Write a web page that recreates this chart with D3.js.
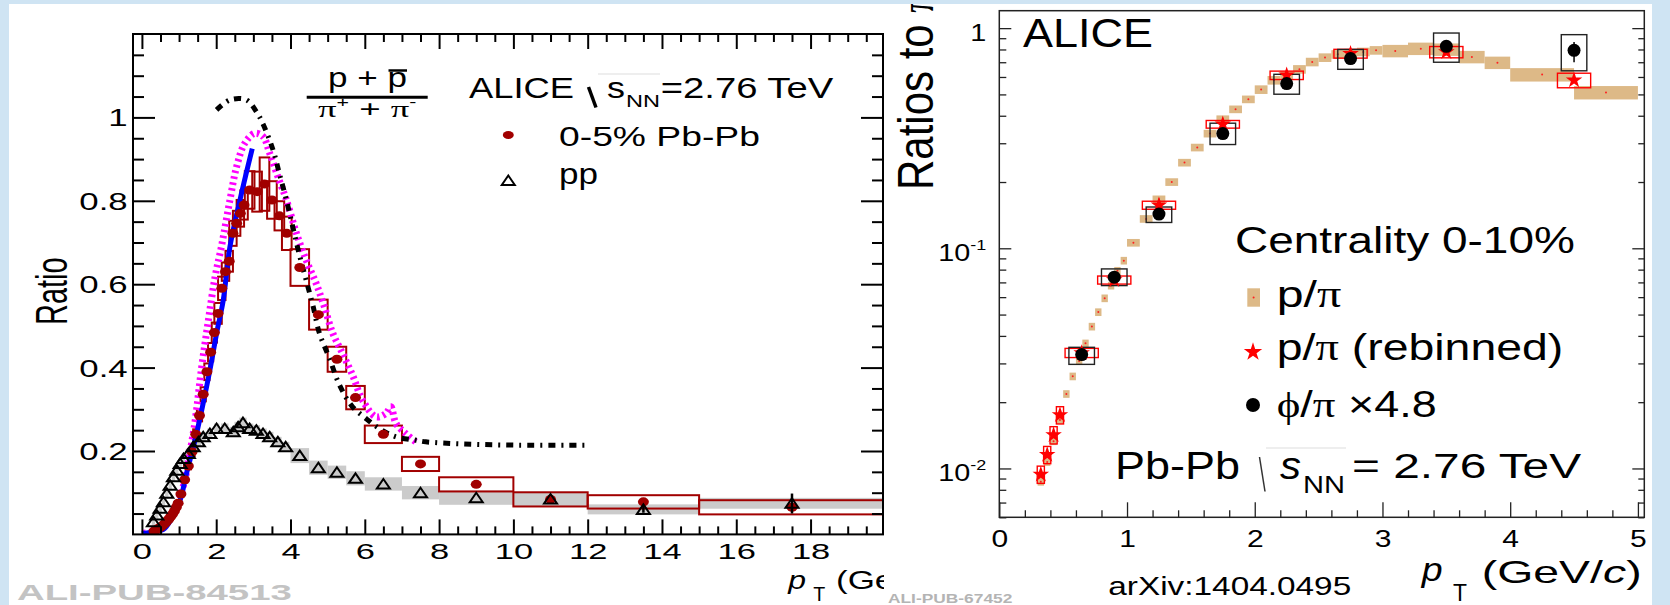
<!DOCTYPE html>
<html><head><meta charset="utf-8">
<script src="https://cdn.jsdelivr.net/npm/d3@7"></script>
<style>html,body{margin:0;padding:0;background:#fff;}svg{display:block;}text{font-family:"Liberation Sans",Arial,Helvetica,sans-serif;}</style>
</head><body>
<svg id="c" width="1670" height="605"></svg>
<script>
// ===== Left panel: (p+pbar)/(pi+ + pi-) =====
const pbPt = [0.325,0.375,0.425,0.475,0.525,0.575,0.625,0.675,0.725,0.775,0.825,0.875,0.925,0.975,
  1.05,1.15,1.25,1.35,1.45,1.55,1.65,1.75,1.85,1.95,
  2.05,2.15,2.25,2.35,2.45,2.55,2.65,2.75,
  2.9,3.1,3.3,3.5,3.7,3.9, 4.25,4.75,5.25,5.75, 6.5,7.5, 9,11,13.5,17.5];
const pbVal = [0.008,0.0105,0.013,0.016,0.019,0.023,0.027,0.032,0.037,0.043,0.049,0.056,0.065,0.075,
  0.097,0.131,0.164,0.198,0.24,0.285,0.336,0.39,0.437,0.484,
  0.53,0.59,0.63,0.655,0.722,0.746,0.77,0.79,
  0.826,0.822,0.84,0.802,0.764,0.722, 0.64,0.527,0.42,0.328, 0.24,0.169, 0.12,0.084,0.078,0.065];
const pbSys = [0.0005,0.0006,0.0007,0.0008,0.001,0.0012,0.0014,0.0016,0.0019,0.0022,0.0025,0.0028,0.0033,0.0038,
  0.005,0.007,0.008,0.01,0.012,0.014,0.017,0.02,0.022,0.024,
  0.025,0.028,0.022,0.025,0.03,0.03,0.032,0.035,
  0.045,0.048,0.064,0.045,0.035,0.04, 0.044,0.036,0.03,0.028, 0.021,0.017, 0.017,0.017,0.016,0.017];
const pbHalfW = [0.04,0.04,0.04,0.04,0.04,0.04,0.04,0.04,0.04,0.04,0.04,0.04,0.04,0.04,
  0.07,0.07,0.07,0.07,0.07,0.07,0.07,0.07,0.07,0.07,
  0.1,0.1,0.1,0.1,0.1,0.1,0.1,0.1,
  0.13,0.13,0.13,0.13,0.13,0.13, 0.25,0.25,0.25,0.25, 0.5,0.5, 1,1,1.5,2.5];

const ppPt = [0.31,0.40,0.49,0.58,0.67,0.76,0.85,0.94,1.03,1.12,
  1.25,1.38,1.52,1.65,1.83,2.01,
  2.23,2.46,2.59,2.72,2.90,3.08,3.26,3.44,3.66,3.87,
  4.25,4.75,5.25,5.75,6.5,7.5,9,11,13.5,17.5];
const ppVal = [0.0305,0.0465,0.0626,0.0784,0.0985,0.118,0.138,0.154,0.17,0.182,
  0.194,0.21,0.222,0.234,0.242,0.254,
  0.254,0.246,0.258,0.268,0.254,0.25,0.242,0.234,0.222,0.21,
  0.189,0.16,0.149,0.1345,0.121,0.1,0.088,0.085,0.06,0.0746];
const ppSys = [0.012,0.012,0.012,0.012,0.012,0.012,0.012,0.012,0.012,0.012,
  0.012,0.012,0.012,0.012,0.012,0.012,
  0.012,0.012,0.012,0.012,0.012,0.012,0.012,0.012,0.012,0.012,
  0.018,0.017,0.016,0.017,0.016,0.016,0.017,0.017,0.012,0.013];
const ppHalfW = [0.045,0.045,0.045,0.045,0.045,0.045,0.045,0.045,0.045,0.045,
  0.07,0.07,0.07,0.07,0.07,0.07,
  0.1,0.1,0.1,0.1,0.1,0.1,0.1,0.1,0.1,0.1,
  0.25,0.25,0.25,0.25,0.5,0.5,1,1,1.5,2.5];
const ppStatPt = [13.5,17.5];
const ppStatLo = [0.052,0.05];
const ppStatHi = [0.068,0.098];

// model curves
const blueX = [0,0.3,0.58,0.8,1.03,1.2,1.43,1.61,1.83,2.01,2.19,2.37,2.64,2.83,2.97];
const blueY = [0.002,0.006,0.012,0.038,0.0825,0.146,0.226,0.298,0.394,0.482,0.562,0.69,0.802,0.874,0.925];
const magX = [0.04,0.5,1.0,1.38,1.61,1.79,1.97,2.14,2.37,2.55,2.77,3.04,3.26,3.44,3.66,3.89,4.16,4.42,4.69,4.91,5.14,5.40,5.67,5.94,6.30,6.57,6.70,6.84,7.10,7.37];
const magY = [0.003,0.014,0.085,0.242,0.402,0.514,0.618,0.69,0.802,0.882,0.938,0.962,0.954,0.914,0.858,0.802,0.722,0.658,0.602,0.546,0.482,0.434,0.382,0.322,0.282,0.29,0.306,0.266,0.242,0.222];
const bkX = [2.01,2.37,2.81,3.08,3.26,3.53,3.71,3.89,4.07,4.24,4.42,4.60,4.78,5.05,5.32,5.67,6.03,6.39,6.84,7.37,7.64,8.62,10.14,11.93];
const bkY = [1.018,1.042,1.042,1.014,0.984,0.922,0.862,0.802,0.734,0.67,0.61,0.55,0.482,0.422,0.358,0.306,0.278,0.254,0.234,0.226,0.222,0.217,0.214,0.214];

const leftXMajor = [0,2,4,6,8,10,12,14,16,18,20];
const leftYMajor = [0.2,0.4,0.6,0.8,1];

// ===== Right panel: ratios to pi (log) =====
const ppiPt = [0.325,0.375,0.425,0.475,0.525,0.575,0.625,0.675,0.725,0.775,0.825,0.875,0.925,0.975,
  1.05,1.15,1.25,1.35,1.45,1.55,1.65,1.75,1.85,1.95,
  2.05,2.15,2.25,2.35,2.45,2.55,2.65,2.75,2.85,2.95,
  3.1,3.3,3.5,3.7,3.9, 4.25,4.75];
const ppiVal = [0.0087,0.0107,0.0133,0.0166,0.0218,0.0262,0.0308,0.037,0.0441,0.0513,0.0593,0.0677,0.0791,0.0879,
  0.106,0.136,0.167,0.2,0.245,0.287,0.332,0.386,0.428,0.475,
  0.526,0.58,0.61,0.65,0.702,0.735,0.76,0.77,0.78,0.793,
  0.788,0.807,0.80,0.74,0.697, 0.615,0.51];
const ppiBinW = [0.05,0.05,0.05,0.05,0.05,0.05,0.05,0.05,0.05,0.05,0.05,0.05,0.05,0.05,
  0.1,0.1,0.1,0.1,0.1,0.1,0.1,0.1,0.1,0.1,
  0.1,0.1,0.1,0.1,0.1,0.1,0.1,0.1,0.1,0.1,
  0.2,0.2,0.2,0.2,0.2, 0.5,0.5];
const ppiRel = [0.04,0.04,0.04,0.04,0.04,0.04,0.04,0.04,0.04,0.04,0.04,0.04,0.04,0.04,
  0.04,0.04,0.04,0.04,0.04,0.04,0.04,0.04,0.04,0.04,
  0.045,0.045,0.045,0.045,0.045,0.045,0.045,0.045,0.045,0.045,
  0.065,0.065,0.065,0.065,0.065, 0.07,0.07];

const starPt = [0.325,0.375,0.425,0.475,0.645,0.9,1.25,1.75,2.25,2.75,3.5,4.5];
const starVal = [0.0094,0.01155,0.0142,0.0175,0.0335,0.0718,0.157,0.366,0.611,0.766,0.779,0.58];
const starHalfW = [0.028,0.028,0.028,0.028,0.13,0.13,0.13,0.13,0.13,0.13,0.13,0.13];
const starRel = [0.09,0.09,0.09,0.09,0.048,0.042,0.042,0.04,0.044,0.046,0.059,0.076];

const phiPt = [0.645,0.9,1.25,1.75,2.25,2.75,3.5,4.5];
const phiVal = [0.0329,0.0739,0.143,0.332,0.56,0.727,0.827,0.793];
const phiLo = [0.0297,0.0677,0.131,0.296,0.501,0.65,0.70,0.64];
const phiHi = [0.0355,0.0806,0.154,0.37,0.617,0.80,0.95,0.934];
const phiHalfW = [0.1,0.1,0.1,0.1,0.1,0.1,0.1,0.1];
const phiStatLo = [0.0325,0.0725,0.14,0.325,0.545,0.71,0.80,0.70];
const phiStatHi = [0.0333,0.0753,0.146,0.339,0.575,0.744,0.855,0.865];

const rightXMajor = [0,1,2,3,4,5];
const rightYMajor = [0.01,0.1,1];
const rightYLabels = ['10|-2','10|-1','1'];

// ===== drawing =====
const LB = '#cfe4f3', PBR = '#a10000', TAN = '#ddb987';
const svg = d3.select('#c');
const defs = svg.append('defs');
svg.append('rect').attr('width',1670).attr('height',605).attr('fill',LB);
svg.append('rect').attr('x',9).attr('y',4).attr('width',875).attr('height',601).attr('fill','#fff');

function T(parent, o) {
  const g = parent.append('g');
  const t = g.append('text').attr('x',0).attr('y',0).attr('font-size',o.size)
    .attr('text-anchor',o.anchor||'start').attr('fill',o.fill||'#000');
  if (o.family) t.attr('font-family',o.family);
  if (o.weight) t.attr('font-weight',o.weight);
  if (o.italic) t.attr('font-style','italic');
  if (o.parts) o.parts.forEach(p => {
    const s = t.append('tspan').text(p.t);
    if (p.dy) s.attr('dy',p.dy);
    if (p.size) s.attr('font-size',p.size);
    if (p.italic) s.attr('font-style','italic');
    if (p.family) s.attr('font-family',p.family);
  });
  else t.text(o.text);
  let sx = o.sx || 1;
  if (o.w) sx = o.w / t.node().getBBox().width;
  g.attr('transform',`translate(${o.x},${o.y}) scale(${sx},1)` + (o.rot ? ` rotate(${o.rot})` : ''));
  return g;
}
function tickAxis(parent, gen, tx, ty, values, size, sw, color) {
  const g = parent.append('g').attr('transform',`translate(${tx},${ty})`)
    .call(gen.tickValues(values).tickSizeInner(size).tickSizeOuter(0).tickFormat(''));
  g.select('.domain').remove();
  g.selectAll('line').attr('stroke',color).attr('stroke-width',sw);
  g.selectAll('text').remove();
  return g;
}
const SERIF = '"Liberation Serif","DejaVu Serif",serif';

// ---------- LEFT ----------
const xL = d3.scaleLinear().domain([-0.24,19.95]).range([133,883]);
const yL = d3.scaleLinear().domain([0,1.2]).range([534.4,34]);
const gL = svg.append('g');
defs.append('clipPath').attr('id','clipL').append('rect')
  .attr('x',133).attr('y',34).attr('width',750).attr('height',500.4);
const dL = gL.append('g').attr('clip-path','url(#clipL)');

dL.selectAll('rect.pps').data(ppPt).join('rect').attr('class','pps')
  .attr('x',(d,i)=>xL(d-ppHalfW[i])).attr('width',(d,i)=>xL(d+ppHalfW[i])-xL(d-ppHalfW[i]))
  .attr('y',(d,i)=>yL(ppVal[i]+ppSys[i])).attr('height',(d,i)=>yL(ppVal[i]-ppSys[i])-yL(ppVal[i]+ppSys[i]))
  .attr('fill','#cbcbcb');
dL.selectAll('rect.pbs').data(pbPt).join('rect').attr('class','pbs')
  .attr('x',(d,i)=>xL(d-pbHalfW[i])).attr('width',(d,i)=>xL(d+pbHalfW[i])-xL(d-pbHalfW[i]))
  .attr('y',(d,i)=>yL(pbVal[i]+pbSys[i])).attr('height',(d,i)=>yL(pbVal[i]-pbSys[i])-yL(pbVal[i]+pbSys[i]))
  .attr('fill','none').attr('stroke',PBR).attr('stroke-width',2);

const lineL = d3.line().x(d=>xL(d[0])).y(d=>yL(d[1])).curve(d3.curveCatmullRom);
dL.append('path').attr('d',lineL(d3.zip(magX,magY))).attr('fill','none')
  .attr('stroke','#ff00ff').attr('stroke-width',7).attr('stroke-dasharray','2.5,3.5');
dL.append('path').attr('d',lineL(d3.zip(blueX,blueY))).attr('fill','none')
  .attr('stroke','#0000ff').attr('stroke-width',5);
dL.append('path').attr('d',lineL(d3.zip(bkX,bkY))).attr('fill','none')
  .attr('stroke','#000').attr('stroke-width',5).attr('stroke-dasharray','7,6,2,6');

dL.selectAll('ellipse.pb').data(pbPt).join('ellipse').attr('class','pb')
  .attr('cx',d=>xL(d)).attr('cy',(d,i)=>yL(pbVal[i])).attr('rx',5.5).attr('ry',4.5).attr('fill',PBR);
dL.selectAll('line.ppst').data(ppStatPt).join('line').attr('class','ppst')
  .attr('x1',d=>xL(d)).attr('x2',d=>xL(d)).attr('y1',(d,i)=>yL(ppStatLo[i])).attr('y2',(d,i)=>yL(ppStatHi[i]))
  .attr('stroke','#000').attr('stroke-width',2.5);
const tri = (x,y)=>`M${x},${y-5}L${x+6.5},${y+4.5}L${x-6.5},${y+4.5}Z`;
dL.selectAll('path.pp').data(ppPt).join('path').attr('class','pp')
  .attr('d',(d,i)=>tri(xL(d),yL(ppVal[i]))).attr('fill','none').attr('stroke','#000').attr('stroke-width',2);

// frame + ticks
gL.append('rect').attr('x',133).attr('y',34).attr('width',750).attr('height',500.4)
  .attr('fill','none').attr('stroke','#000').attr('stroke-width',2);
const lxMinor = d3.range(0,20.01,0.5).filter(v=>v%2!==0);
const lyMinor = d3.range(0.05,1.2,0.05).map(v=>+v.toFixed(2)).filter(v=>Math.abs(v*5-Math.round(v*5))>1e-6);
tickAxis(gL,d3.axisBottom(xL),0,yL(0),lxMinor,-8,2,'#000');
tickAxis(gL,d3.axisTop(xL),0,yL(1.2),lxMinor,-8,2,'#000');
tickAxis(gL,d3.axisTop(xL),0,yL(1.2),leftXMajor.slice(0,10),-15,2,'#000');
tickAxis(gL,d3.axisLeft(yL),133,0,lyMinor,-11,2,'#000');
tickAxis(gL,d3.axisRight(yL),883,0,lyMinor,-11,2,'#000');
tickAxis(gL,d3.axisRight(yL),883,0,leftYMajor,-22,2,'#000');
const lxa = gL.append('g').attr('transform',`translate(0,${yL(0)})`)
  .call(d3.axisBottom(xL).tickValues(leftXMajor).tickSizeInner(-15).tickSizeOuter(0).tickFormat(d=>String(d)));
lxa.select('.domain').remove();
lxa.selectAll('line').attr('stroke','#000').attr('stroke-width',2);
lxa.selectAll('text').attr('y',24.6).attr('dy',null).attr('font-size',23).attr('fill','#000')
  .attr('font-family','"Liberation Sans",Arial,sans-serif').attr('transform','scale(1.5,1)')
  .filter(d=>d===20).attr('text-anchor','start').attr('x',0.5);
const lya = gL.append('g').attr('transform','translate(133,0)')
  .call(d3.axisLeft(yL).tickValues(leftYMajor).tickSizeInner(-22).tickSizeOuter(0).tickFormat(d=>d===1?'1':d.toFixed(1)));
lya.select('.domain').remove();
lya.selectAll('line').attr('stroke','#000').attr('stroke-width',2);
lya.selectAll('text').attr('x',-5.3/1.45).attr('y',8.5).attr('dy',null).attr('font-size',24).attr('fill','#000')
  .attr('font-family','"Liberation Sans",Arial,sans-serif').attr('transform','scale(1.45,1)');

// left texts
T(svg,{x:67,y:325,size:29,text:'Ratio',sx:1.55,rot:-90});
T(svg,{x:367.5,y:87.3,size:28,anchor:'middle',text:'p + p',w:79});
svg.append('line').attr('x1',388.5).attr('x2',407).attr('y1',70.5).attr('y2',70.5).attr('stroke','#000').attr('stroke-width',2.5);
svg.append('line').attr('x1',306.7).attr('x2',427.7).attr('y1',97.3).attr('y2',97.3).attr('stroke','#000').attr('stroke-width',3);
T(svg,{x:318,y:117.3,size:24,w:99,parts:[
  {t:'\u03C0',family:SERIF},{t:'+',dy:-10,size:14},{t:' + ',dy:10},{t:'\u03C0',family:SERIF},{t:'-',dy:-10,size:14}]});
T(svg,{x:469,y:98.3,size:30,text:'ALICE',w:105});
svg.append('line').attr('x1',588.5).attr('y1',87).attr('x2',596).attr('y2',107.5).attr('stroke','#000').attr('stroke-width',3.5);
svg.append('line').attr('x1',598).attr('y1',74).attr('x2',660).attr('y2',74).attr('stroke','#ddd').attr('stroke-width',1);
T(svg,{x:607,y:98.3,size:30,text:'s',w:18});
T(svg,{x:626,y:106.5,size:16,text:'NN',w:34});
T(svg,{x:660.7,y:98.3,size:30,text:'=2.76 TeV',w:172.6});
svg.append('ellipse').attr('cx',508.3).attr('cy',135).attr('rx',5.5).attr('ry',4).attr('fill',PBR);
T(svg,{x:559,y:145.5,size:27,text:'0-5% Pb-Pb',w:201});
svg.append('path').attr('d',tri(508.3,180.5)).attr('fill','none').attr('stroke','#000').attr('stroke-width',2);
T(svg,{x:559,y:184.3,size:29,text:'pp',w:39});
T(svg,{x:17,y:599.5,size:22,text:'ALI-PUB-84513',w:275,family:'"Liberation Mono","DejaVu Sans Mono",monospace',weight:'bold',fill:'#c3c3c3'});
T(svg,{x:788.3,y:588.5,size:26,text:'p',italic:true,w:19});
T(svg,{x:813.3,y:601,size:20,text:'T',w:12});
T(svg,{x:836,y:589,size:25,sx:1.4,parts:[{t:'(GeV/'},{t:'c',italic:true},{t:')'}]});

// ---------- RIGHT ----------
svg.append('rect').attr('x',884).attr('y',4).attr('width',768).attr('height',601).attr('fill','#fff');
const xR = d3.scaleLinear().domain([0,5.05]).range([999.3,1644.3]);
const yR = d3.scaleLog().domain([0.006,1.2]).range([517.3,10.7]);
const gR = svg.append('g');

gR.selectAll('rect.tan').data(ppiPt).join('rect').attr('class','tan')
  .attr('x',(d,i)=>xR(d-ppiBinW[i]/2)).attr('width',(d,i)=>xR(d+ppiBinW[i]/2)-xR(d-ppiBinW[i]/2))
  .attr('y',(d,i)=>yR(ppiVal[i]*(1+ppiRel[i]))).attr('height',(d,i)=>yR(ppiVal[i]*(1-ppiRel[i]))-yR(ppiVal[i]*(1+ppiRel[i])))
  .attr('fill',TAN);
gR.selectAll('circle.tc').data(ppiPt).join('circle').attr('class','tc')
  .attr('cx',d=>xR(d)).attr('cy',(d,i)=>yR(ppiVal[i])).attr('r',1).attr('fill','#ff2020');
gR.selectAll('rect.sb').data(starPt).join('rect').attr('class','sb')
  .attr('x',(d,i)=>xR(d-starHalfW[i])).attr('width',(d,i)=>xR(d+starHalfW[i])-xR(d-starHalfW[i]))
  .attr('y',(d,i)=>yR(starVal[i]*(1+starRel[i]))).attr('height',(d,i)=>yR(starVal[i]*(1-starRel[i]))-yR(starVal[i]*(1+starRel[i])))
  .attr('fill','none').attr('stroke','#ff0000').attr('stroke-width',1.4);
gR.selectAll('rect.fb').data(phiPt).join('rect').attr('class','fb')
  .attr('x',(d,i)=>xR(d-phiHalfW[i])).attr('width',(d,i)=>xR(d+phiHalfW[i])-xR(d-phiHalfW[i]))
  .attr('y',(d,i)=>yR(phiHi[i])).attr('height',(d,i)=>yR(phiLo[i])-yR(phiHi[i]))
  .attr('fill','none').attr('stroke','#222').attr('stroke-width',1.4);
const star = d3.symbol().type(d3.symbolStar).size(85);
gR.selectAll('path.st').data(starPt).join('path').attr('class','st')
  .attr('transform',(d,i)=>`translate(${xR(d)},${yR(starVal[i])})`).attr('d',star()).attr('fill','#ff0000');
gR.selectAll('line.fe').data(phiPt).join('line').attr('class','fe')
  .attr('x1',d=>xR(d)).attr('x2',d=>xR(d)).attr('y1',(d,i)=>yR(phiStatLo[i])).attr('y2',(d,i)=>yR(phiStatHi[i]))
  .attr('stroke','#000').attr('stroke-width',1.5);
gR.selectAll('circle.phi').data(phiPt).join('circle').attr('class','phi')
  .attr('cx',d=>xR(d)).attr('cy',(d,i)=>yR(phiVal[i])).attr('r',6.5).attr('fill','#000');

// frame & ticks
gR.append('rect').attr('x',999.3).attr('y',10.7).attr('width',645).attr('height',506.6)
  .attr('fill','none').attr('stroke','#222').attr('stroke-width',1.5);
const rxMinor = d3.range(0.2,5.05,0.2).map(v=>+v.toFixed(1)).filter(v=>Math.abs(v-Math.round(v))>1e-6);
const ryMinor = [0.006,0.007,0.008,0.009,0.02,0.03,0.04,0.05,0.06,0.07,0.08,0.09,0.2,0.3,0.4,0.5,0.6,0.7,0.8,0.9];
tickAxis(gR,d3.axisBottom(xR),0,517.3,rxMinor,-7,1.3,'#222');
tickAxis(gR,d3.axisLeft(yR),999.3,0,ryMinor,-7,1.3,'#222');
tickAxis(gR,d3.axisRight(yR),1644.3,0,ryMinor,-6,1.3,'#222');
tickAxis(gR,d3.axisRight(yR),1644.3,0,rightYMajor,-12,1.3,'#222');
const rxa = gR.append('g').attr('transform','translate(0,517.3)')
  .call(d3.axisBottom(xR).tickValues(rightXMajor).tickSizeInner(-15).tickSizeOuter(0).tickFormat(d=>String(d)));
rxa.select('.domain').remove();
rxa.selectAll('line').attr('stroke','#222').attr('stroke-width',1.3);
rxa.selectAll('text').attr('y',29.4).attr('dy',null).attr('font-size',24).attr('fill','#000')
  .attr('font-family','"Liberation Sans",Arial,sans-serif').attr('transform','scale(1.25,1)');
const rya = gR.append('g').attr('transform','translate(999.3,0)')
  .call(d3.axisLeft(yR).tickValues(rightYMajor).tickSizeInner(-12).tickSizeOuter(0).tickFormat(''));
rya.select('.domain').remove();
rya.selectAll('line').attr('stroke','#222').attr('stroke-width',1.3);
rya.selectAll('text').each(function(d,i){
  const t = d3.select(this).text(null).attr('x',-13/1.2).attr('y',12).attr('dy',null)
    .attr('font-size',24).attr('fill','#000').attr('font-family','"Liberation Sans",Arial,sans-serif')
    .attr('transform','scale(1.2,1)');
  const parts = rightYLabels[i].split('|');
  t.append('tspan').text(parts[0]);
  if (parts[1]) t.append('tspan').attr('dy',-11).attr('font-size',15).text(parts[1]);
});

// right texts
T(svg,{x:933.3,y:190,size:42,sx:1.17,rot:-90,parts:[{t:'Ratios to '},{t:'\u03C0',family:SERIF}]});
T(svg,{x:1023,y:46.7,size:40,text:'ALICE',w:130});
T(svg,{x:1235,y:253.3,size:37,text:'Centrality 0-10%',w:340});
svg.append('rect').attr('x',1247.3).attr('y',288.3).attr('width',12.7).attr('height',18.4).attr('fill',TAN);
svg.append('circle').attr('cx',1253.6).attr('cy',297.5).attr('r',1).attr('fill','#ff2020');
T(svg,{x:1276.7,y:306.7,size:37,w:65,parts:[{t:'p/'},{t:'\u03C0',family:SERIF}]});
svg.append('path').attr('transform','translate(1253,352)').attr('d',d3.symbol().type(d3.symbolStar).size(105)()).attr('fill','#ff0000');
T(svg,{x:1276.7,y:360,size:37,w:286.6,parts:[{t:'p/'},{t:'\u03C0',family:SERIF},{t:' (rebinned)'}]});
svg.append('circle').attr('cx',1253).attr('cy',405).attr('r',7).attr('fill','#000');
T(svg,{x:1276.7,y:416.7,size:36,w:160,parts:[{t:'\u03D5',family:SERIF},{t:'/'},{t:'\u03C0',family:SERIF},{t:' \u00D74.8'}]});
T(svg,{x:1115,y:479,size:38,text:'Pb-Pb',w:125});
svg.append('line').attr('x1',1259.5).attr('y1',457).attr('x2',1265).attr('y2',491.5).attr('stroke','#333').attr('stroke-width',1.5);
svg.append('line').attr('x1',1266).attr('y1',448).attr('x2',1346).attr('y2',448).attr('stroke','#ddd').attr('stroke-width',1);
T(svg,{x:1280,y:479,size:38,text:'s',italic:true,w:21});
T(svg,{x:1303,y:493,size:24,text:'NN',w:42});
T(svg,{x:1352,y:477.5,size:35,text:'= 2.76 TeV',w:230});
T(svg,{x:1108.3,y:595,size:25,text:'arXiv:1404.0495',w:243,family:'"DejaVu Sans Condensed","DejaVu Sans",sans-serif'});
T(svg,{x:1421.7,y:580.7,size:33,text:'p',italic:true,w:22});
T(svg,{x:1453,y:601,size:23,text:'T',w:14});
T(svg,{x:1481.7,y:583.3,size:31,w:160,parts:[{t:'(GeV/'},{t:'c',italic:true},{t:')'}]});
T(svg,{x:888,y:602.5,size:12,text:'ALI-PUB-67452',w:125,family:'"Liberation Mono","DejaVu Sans Mono",monospace',weight:'bold',fill:'#b4b4b4'});

// outer light-blue strips on top
svg.append('rect').attr('x',0).attr('y',0).attr('width',1670).attr('height',4).attr('fill',LB);
svg.append('rect').attr('x',1652).attr('y',0).attr('width',18).attr('height',605).attr('fill',LB);
svg.append('rect').attr('x',0).attr('y',0).attr('width',9).attr('height',605).attr('fill',LB);
</script>
</body></html>
